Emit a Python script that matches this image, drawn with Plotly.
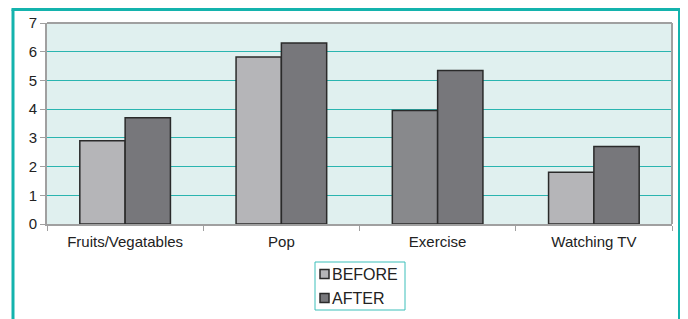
import plotly.graph_objects as go

categories = ["Fruits/Vegatables", "Pop", "Exercise", "Watching TV"]
before = [2.9, 5.82, 3.95, 1.8]
after = [3.7, 6.3, 5.35, 2.7]
series_names = ["BEFORE", "AFTER"]
before_colors = ["#b5b5b8", "#b5b5b8", "#88898c", "#b5b5b8"]
after_colors = ["#77777b", "#77777b", "#77777b", "#77777b"]
legend_colors = ["#b5b5b8", "#77777b"]
y_ticks = [0, 1, 2, 3, 4, 5, 6, 7]

# page body has an 8px margin, so figure coordinates = screen coordinates - 8
OFF = 8
W, H = 688 - OFF, 319 - OFF
ml, mt = 47 - OFF, 23 - OFF
mr = W - (672 - OFF)
mb = H - (224 - OFF)
pw, ph = W - ml - mr, H - mt - mb

def px(x):  # screen x -> paper
    return (x - OFF - ml) / pw

def py(y):  # screen y -> paper
    return (H - mb - (y - OFF)) / ph

fig = go.Figure()
fig.add_trace(go.Bar(x=categories, y=before, name=series_names[0], showlegend=False,
                     marker=dict(color=before_colors, line=dict(color="#2a2a2a", width=1.5))))
fig.add_trace(go.Bar(x=categories, y=after, name=series_names[1], showlegend=False,
                     marker=dict(color=after_colors, line=dict(color="#2a2a2a", width=1.5))))

shapes = [
    # plot area top & right frame
    dict(type="line", xref="paper", yref="paper", x0=0, x1=1, y0=1, y1=1,
         line=dict(color="#a0a0a0", width=2)),
    dict(type="line", xref="paper", yref="paper", x0=1, x1=1, y0=0, y1=1,
         line=dict(color="#a0a0a0", width=2)),
    # outer teal frame
    dict(type="line", xref="paper", yref="paper", x0=px(13), x1=px(13), y0=py(9.5), y1=py(340),
         line=dict(color="#14b3ad", width=3)),
    dict(type="line", xref="paper", yref="paper", x0=px(11.5), x1=px(681), y0=py(9.5), y1=py(9.5),
         line=dict(color="#14b3ad", width=3)),
    dict(type="line", xref="paper", yref="paper", x0=px(679.5), x1=px(679.5), y0=py(9.5), y1=py(340),
         line=dict(color="#14b3ad", width=3)),
    # legend box
    dict(type="rect", xref="paper", yref="paper", x0=px(315), x1=px(405), y0=py(262), y1=py(310),
         line=dict(color="#3cbfba", width=1), fillcolor="white"),
]
annotations = []
for i, (name, col) in enumerate(zip(series_names, legend_colors)):
    cy = 274 + 24 * i
    shapes.append(dict(type="rect", xref="paper", yref="paper",
                       x0=px(320), x1=px(329), y0=py(cy - 4.5), y1=py(cy + 4.5),
                       line=dict(color="#2a2a2a", width=1.5), fillcolor=col))
    annotations.append(dict(xref="paper", yref="paper", x=px(330), y=py(cy),
                            xanchor="left", yanchor="middle", text=name, showarrow=False,
                            font=dict(size=16, color="#222")))

fig.update_layout(
    width=W, height=H,
    margin=dict(l=ml, r=mr, t=mt, b=mb, pad=0, autoexpand=False),
    paper_bgcolor="white",
    plot_bgcolor="#e0f0ef",
    barmode="group",
    bargap=0.42,
    bargroupgap=0,
    font=dict(family="Liberation Sans, Arial, sans-serif", size=15, color="#222"),
    showlegend=False,
    xaxis=dict(
        showgrid=False, showline=True, linecolor="#a0a0a0", linewidth=2,
        ticks="outside", tickson="boundaries", ticklen=5, tickcolor="#a0a0a0",
        mirror=False, zeroline=False, tickfont=dict(size=15), automargin=False,
        ticklabelstandoff=3,
    ),
    yaxis=dict(
        range=[0, 7], tickvals=y_ticks, showgrid=True, gridcolor="#2ab5b0", gridwidth=1,
        showline=True, linecolor="#a0a0a0", linewidth=2,
        ticks="outside", ticklen=5, tickcolor="#a0a0a0", zeroline=False,
        tickfont=dict(size=15), automargin=False,
    ),
    shapes=shapes,
    annotations=annotations,
)

fig.write_html("out.html")
